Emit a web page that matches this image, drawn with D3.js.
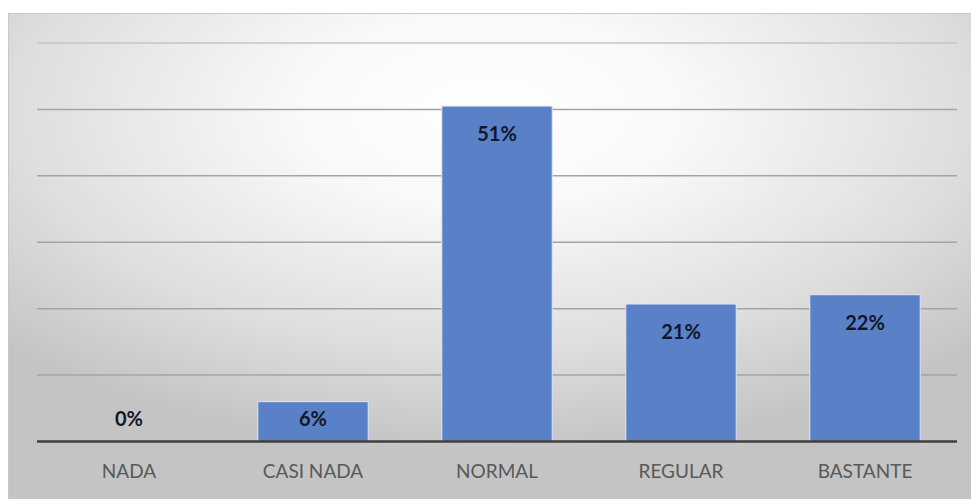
<!DOCTYPE html>
<html><head><meta charset="utf-8">
<script src="https://cdn.jsdelivr.net/npm/d3@7"></script>
<style>html,body{margin:0;padding:0;background:#fff;}svg{display:block;}</style>
</head><body>
<script>
const categories = ["NADA", "CASI NADA", "NORMAL", "REGULAR", "BASTANTE"];
const values = [0, 6.0, 50.5, 20.7, 22.1];
const yTicks = [0, 10, 20, 30, 40, 50, 60];

const W = 971, H = 499;
const svg = d3.select("body").append("svg").attr("width", W).attr("height", H);
const defs = svg.append("defs");
const rg = defs.append("radialGradient").attr("id", "bg")
  .attr("cx", "50%").attr("cy", "20%").attr("r", "70%")
  .attr("gradientUnits", "objectBoundingBox");
rg.append("stop").attr("offset", "0%").attr("stop-color", "#ffffff");
rg.append("stop").attr("offset", "30%").attr("stop-color", "#f8f8f8");
rg.append("stop").attr("offset", "70%").attr("stop-color", "#dedede");
rg.append("stop").attr("offset", "100%").attr("stop-color", "#c4c4c4");

svg.append("rect").attr("x", 8.5).attr("y", 13.5).attr("width", W - 8).attr("height", H - 13)
  .attr("fill", "url(#bg)").attr("stroke", "#c8c8c8").attr("stroke-width", 1);

const m = {left: 37, right: 14, top: 43, bottom: 57.5};
const x = d3.scaleBand().domain(categories).range([m.left, W - m.right]).paddingInner(0.4).paddingOuter(0.2);
const y = d3.scaleLinear().domain([0, 60]).range([H - m.bottom, m.top]);

const g = svg.append("g");
g.selectAll("line.grid").data(yTicks.filter(d => d > 0)).join("line")
  .attr("class", "grid")
  .attr("x1", m.left).attr("x2", W - m.right)
  .attr("y1", d => y(d)).attr("y2", d => y(d))
  .attr("stroke", d => d === 60 ? "#c4c4c4" : "#a4a4a4").attr("stroke-width", 1.5);

g.selectAll("rect.bar").data(values).join("rect")
  .attr("class", "bar")
  .attr("x", (d, i) => x(categories[i]))
  .attr("width", x.bandwidth())
  .attr("y", d => y(d))
  .attr("height", d => y(0) - y(d))
  .attr("fill", "#5a80c8")
  .attr("stroke", "#dfe7f5").attr("stroke-width", 1);

const xAxis = d3.axisBottom(x).tickSize(0).tickPadding(23);
const ax = svg.append("g").attr("transform", `translate(0,${y(0)})`).call(xAxis);
ax.select(".domain").attr("stroke", "#404040").attr("stroke-width", 2.5)
  .attr("d", `M${m.left},0H${W - m.right}`);
ax.selectAll("text").attr("font-family", "Lato, 'Open Sans', sans-serif")
  .attr("font-size", 19).attr("fill", "#595959");

g.selectAll("text.lbl").data(values).join("text")
  .attr("class", "lbl")
  .attr("x", (d, i) => x(categories[i]) + x.bandwidth() / 2)
  .attr("y", d => Math.min(y(d) + 35, y(0) - 16))
  .attr("text-anchor", "middle")
  .attr("font-family", "Lato, 'Open Sans', sans-serif")
  .attr("font-weight", "bold").attr("font-size", 20).attr("fill", "#101828")
  .text(d => Math.round(d) + "%");
</script>
</body></html>
